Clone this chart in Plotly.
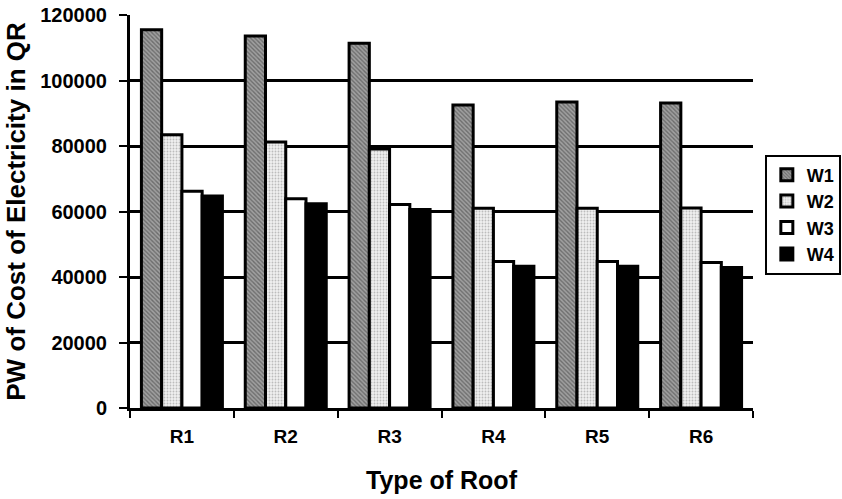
import plotly.graph_objects as go

roofs = ["R1", "R2", "R3", "R4", "R5", "R6"]
w1 = [115500, 113600, 111400, 92500, 93400, 93100]
w2 = [83400, 81200, 79100, 61000, 61000, 61100]
w3 = [66200, 63900, 62100, 44700, 44700, 44400]
w4 = [64700, 62400, 60600, 43300, 43300, 42900]

FONT = "Arial, Liberation Sans, sans-serif"

series = [
    ("W1", w1, dict(color="#a0a0a0", pattern=dict(shape="\\", fgcolor="#3a3a3a", size=3, solidity=0.45))),
    ("W2", w2, dict(color="#efefef", pattern=dict(shape=".", fgcolor="#8a8a8a", size=3, solidity=0.3))),
    ("W3", w3, dict(color="#ffffff")),
    ("W4", w4, dict(color="#000000")),
]

fig = go.Figure()
for name, vals, mk in series:
    fig.add_trace(go.Bar(
        x=roofs, y=vals, name=name, legendgroup=name,
        marker=dict(**mk, line=dict(color="black", width=3)),
    ))

fig.update_layout(
    width=842, height=499,
    margin=dict(l=130, r=89, t=15, b=91, autoexpand=False),
    paper_bgcolor="white", plot_bgcolor="white",
    barmode="group", bargap=0.22, bargroupgap=0,
    font=dict(family=FONT, color="black"),
    legend=dict(
        x=1.019, y=0.645, xanchor="left", yanchor="top",
        bordercolor="black", borderwidth=2,
        font=dict(family=FONT, size=18, color="black", weight="bold"),
        tracegroupgap=13, traceorder="normal",
        itemwidth=30,
    ),
)

fig.update_yaxes(
    range=[0, 120000], dtick=20000, tickformat="d",
    showgrid=True, gridcolor="black", gridwidth=3,
    showline=True, linecolor="black", linewidth=3,
    ticks="outside", ticklen=8, tickwidth=2, tickcolor="black",
    ticklabelstandoff=8,
    tickfont=dict(family=FONT, size=20, weight="bold"),
    zeroline=False,
    title=dict(text="PW of Cost of Electricity in QR", standoff=8,
               font=dict(family=FONT, size=26, weight="bold")),
)
fig.update_xaxes(
    showline=True, linecolor="black", linewidth=3,
    ticks="outside", tickson="boundaries", ticklen=7, tickwidth=2, tickcolor="black",
    ticklabelstandoff=9,
    tickfont=dict(family=FONT, size=19, weight="bold"),
    title=dict(text="Type of Roof", standoff=26,
               font=dict(family=FONT, size=25, weight="bold")),
)

fig.write_html("out.html")
